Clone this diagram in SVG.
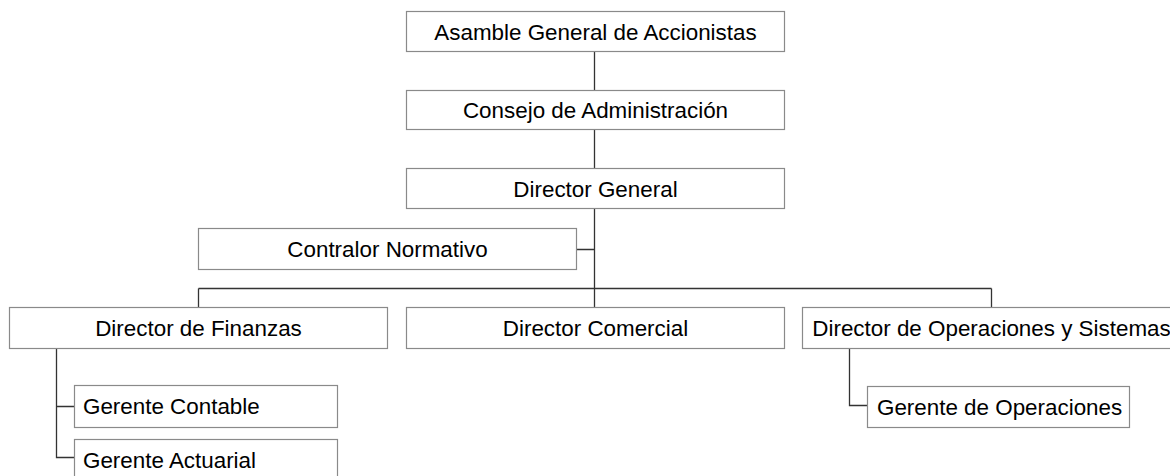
<svg xmlns="http://www.w3.org/2000/svg" width="1170" height="476" viewBox="0 0 1170 476">
<style>
.box{fill:#fff;stroke:#8a8a8a;stroke-width:1.2}
.lbl{font-family:"Liberation Sans",Arial,sans-serif;font-size:22.4px;fill:#000}
.c{text-anchor:middle}
.conn{fill:none;stroke:#333;stroke-width:1.3}
</style>
<rect width="1170" height="476" fill="#fff"/>
<g id="connectors">
<path class="conn" d="M594.5 52V91M594.5 130V168M594.5 208V307M576 249.5H594.5M198.5 288.5H991.5M198.5 288.5V307M991.5 288.5V307"/>
<path class="conn" d="M56.5 348V457.5H74M56.5 406.5H74"/>
<path class="conn" d="M849.5 348V405.5H867"/>
</g>
<g id="n1"><rect class="box" x="406.5" y="11.5" width="378" height="40"/><text class="lbl c" x="595.5" y="40">Asamble General de Accionistas</text></g>
<g id="n2"><rect class="box" x="406.5" y="90.5" width="378" height="39"/><text class="lbl c" x="595.5" y="118">Consejo de Administración</text></g>
<g id="n3"><rect class="box" x="406.5" y="168.5" width="378" height="40"/><text class="lbl c" x="595.5" y="197">Director General</text></g>
<g id="n4"><rect class="box" x="198.5" y="228.5" width="378" height="41"/><text class="lbl c" x="387.5" y="257">Contralor Normativo</text></g>
<g id="n5"><rect class="box" x="9.5" y="307.5" width="378" height="41"/><text class="lbl c" x="198.5" y="336">Director de Finanzas</text></g>
<g id="n6"><rect class="box" x="406.5" y="307.5" width="378" height="41"/><text class="lbl c" x="595.5" y="336">Director Comercial</text></g>
<g id="n7"><rect class="box" x="802.5" y="307.5" width="378" height="41"/><text class="lbl c" x="991.5" y="336">Director de Operaciones y Sistemas</text></g>
<g id="n8"><rect class="box" x="74.5" y="385.5" width="263" height="42"/><text class="lbl" x="83" y="414">Gerente Contable</text></g>
<g id="n9"><rect class="box" x="74.5" y="439.5" width="263" height="42"/><text class="lbl" x="83" y="468">Gerente Actuarial</text></g>
<g id="n10"><rect class="box" x="867.5" y="386.5" width="262" height="41"/><text class="lbl" x="877" y="415">Gerente de Operaciones</text></g>
</svg>
